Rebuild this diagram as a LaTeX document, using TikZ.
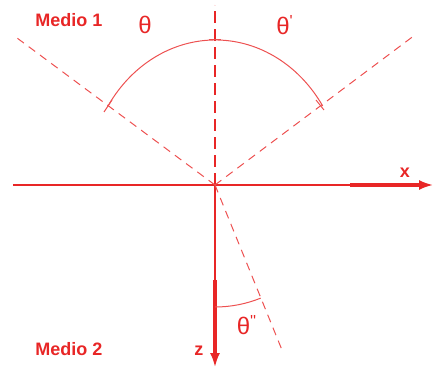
\documentclass[tikz,border=0pt]{standalone}
\usepackage{fontspec}
\setmainfont{Liberation Sans}
\usetikzlibrary{arrows.meta}
\definecolor{medred}{RGB}{232,38,38}
\tikzset{
  axis/.style={medred, line width=1.1pt},
  ray/.style={medred!80, line width=0.5pt, dash pattern=on 4pt off 3pt},
  normal/.style={medred, line width=0.9pt, dash pattern=on 6pt off 3pt},
  angarc/.style={medred!80, line width=0.5pt},
  lbl/.style={medred, font=\bfseries\small},
  ang/.style={medred, font=\large}
}
\begin{document}
\begin{tikzpicture}[x=0.5pt,y=0.5pt]
  \useasboundingbox (-215,-184) rectangle (218,185);
  \coordinate (O) at (0,0);
  \coordinate (L) at (-202,150);
  \coordinate (R) at (200,150);
  \coordinate (N) at (0,180);
  \coordinate (T) at (67,-165);
  \coordinate (xs) at (-202,0);
  \coordinate (xe) at (218,0);
  \coordinate (ze) at (0,-182);
  % axes
  \draw[axis, -{Latex[length=7pt,width=5pt]}] (xs) -- (xe);
  \draw[axis, line width=2pt] (135,0) -- (205,0);
  \draw[axis, -{Latex[length=7pt,width=5pt]}] (O) -- (ze);
  \draw[axis, line width=2pt] (0,-95) -- (0,-170);
  % rays and normal
  \draw[normal] (O) -- (N);
  \draw[ray] (O) -- (L);
  \draw[ray] (O) -- (R);
  \draw[ray] (O) -- (T);
  % angles
  \draw[angarc] (-107,79) arc[start angle=147, end angle=33, x radius=128, y radius=145];
  \draw[angarc] (-111,73) -- (-103,85);
  \draw[angarc] (101,85) -- (109,75);
  \draw[angarc] (-6,145) -- (6,145);
  \draw[angarc] (0,-122) arc[start angle=-90, end angle=-68, radius=122];
  % labels
  \node[lbl] (m1) at (-146,165) {Medio 1};
  \node[lbl] (m2) at (-146,-164) {Medio 2};
  \node[lbl] (xl) at (190,12) {x};
  \node[lbl] (zl) at (-16,-166) {z};
  \node[ang] (t1) at (-70,160) {θ};
  \node[ang] (t2) at (70,160) {θ\textsuperscript{\textquotesingle}};
  \node[ang] (t3) at (32,-140) {θ\textsuperscript{\textquotesingle\textquotesingle}};
\end{tikzpicture}
\end{document}
